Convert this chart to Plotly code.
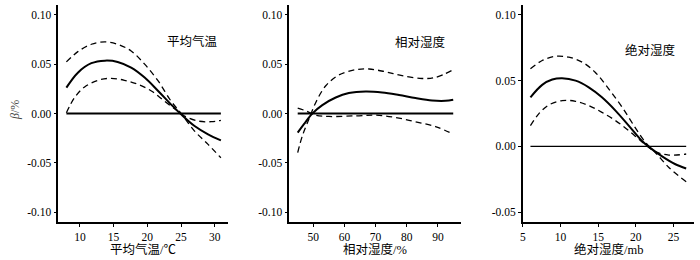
import plotly.graph_objects as go

# Panel 1: 平均气温
temp_x = [8.0, 9.7, 11.7, 13.7, 15.6, 17.6, 19.6, 21.6, 23.5, 25.0, 27.0, 29.0, 30.9]
temp_est = [0.0262, 0.0414, 0.0510, 0.0536, 0.0523, 0.0465, 0.0364, 0.0228, 0.0093, -0.0008, -0.0127, -0.0211, -0.0272]
temp_up = [0.0523, 0.0627, 0.0702, 0.0726, 0.0702, 0.0634, 0.0500, 0.0330, 0.0127, 0.0, -0.0178, -0.0313, -0.0449]
temp_lo_x = [8.0, 9.2, 10.7, 12.7, 14.6, 16.6, 18.6, 20.6, 22.5, 24.5, 25.5, 27.5, 29.5, 30.9]
temp_lo = [0.0008, 0.0160, 0.0269, 0.0337, 0.0357, 0.0337, 0.0296, 0.0228, 0.0127, 0.0025, -0.0025, -0.0076, -0.0083, -0.0069]

# Panel 2: 相对湿度
rh_x = [45.0, 47.0, 49.7, 52.9, 57.2, 61.4, 66.8, 72.1, 77.5, 82.8, 88.1, 92.4, 94.9]
rh_est = [-0.0193, -0.0108, 0.0, 0.0085, 0.0162, 0.0207, 0.0223, 0.0213, 0.0187, 0.0156, 0.0132, 0.0129, 0.0139]
rh_up_x = [45.0, 46.5, 48.6, 50.8, 54.0, 58.2, 63.6, 67.9, 73.2, 78.5, 84.9, 89.2, 94.9]
rh_up = [-0.0396, -0.0226, -0.0057, 0.0112, 0.0281, 0.0390, 0.0444, 0.0451, 0.0423, 0.0383, 0.0355, 0.0366, 0.0444]
rh_lo_x = [45.0, 47.6, 50.8, 55.0, 63.6, 70.0, 76.4, 82.8, 89.2, 94.9]
rh_lo = [0.0055, 0.0027, -0.0017, -0.0030, -0.0024, -0.0017, -0.0040, -0.0084, -0.0132, -0.0209]

# Panel 3: 绝对湿度
ah_x = [6.0, 7.56, 8.9, 10.2, 12.0, 13.75, 15.5, 17.3, 19.06, 20.8, 21.7, 23.5, 25.2, 26.7]
ah_est = [0.0373, 0.0468, 0.0508, 0.0518, 0.0500, 0.0449, 0.0373, 0.0272, 0.0158, 0.0043, -0.0002, -0.0076, -0.0134, -0.0168]
ah_up_x = [6.0, 7.56, 9.3, 11.1, 12.9, 14.6, 16.4, 18.2, 19.9, 21.3, 22.6, 24.4, 26.7]
ah_up = [0.0590, 0.0653, 0.0685, 0.0678, 0.0640, 0.0564, 0.0437, 0.0297, 0.0145, 0.0030, -0.0046, -0.0160, -0.0269]
ah_lo_x = [6.0, 7.1, 8.45, 10.2, 12.0, 13.75, 15.5, 17.3, 19.06, 20.8, 22.6, 24.4, 26.7]
ah_lo = [0.0158, 0.0247, 0.0315, 0.0348, 0.0343, 0.0310, 0.0259, 0.0196, 0.0120, 0.0036, -0.0040, -0.0066, -0.0058]

x_titles = ["平均气温/℃", "相对湿度/%", "绝对湿度/mb"]
panel_labels = ["平均气温", "相对湿度", "绝对湿度"]
x_ranges = [[6.8, 32.0], [42.3, 97.3], [4.97, 27.74]]
x_ticks = [[10, 15, 20, 25, 30], [50, 60, 70, 80, 90], [5, 10, 15, 20, 25]]
y_ranges = [[-0.11, 0.11], [-0.11, 0.11], [-0.0575, 0.1075]]
y_ticks = [[-0.10, -0.05, 0.0, 0.05, 0.10], [-0.10, -0.05, 0.0, 0.05, 0.10], [-0.05, 0.0, 0.05, 0.10]]
y_tick_text = [["-0.10", "-0.05", "0.00", "0.05", "0.10"], ["-0.10", "-0.05", "0.00", "0.05", "0.10"],
               ["-0.05", "0.00", "0.05", "0.10"]]
y_title = "<i>β</i>/%"

W = 700.0
H_PLOT = 217.0
x_domains = [[58.3 / W, 228.3 / W], [289.3 / W, 460.7 / W], [522.7 / W, 694.0 / W]]
zero_widths = [2, 2, 1.3]
label_pos = [(0.951, 0.835), (0.928, 0.83), (0.908, 0.793)]

panels = [
    (temp_x, temp_est, temp_x, temp_up, temp_lo_x, temp_lo),
    (rh_x, rh_est, rh_up_x, rh_up, rh_lo_x, rh_lo),
    (ah_x, ah_est, ah_up_x, ah_up, ah_lo_x, ah_lo),
]

serif = "'Liberation Serif', 'Times New Roman', Times, serif"
cjk = "'Noto Sans CJK SC', sans-serif"

fig = go.Figure()
for i, (ex, ey, ux, uy, lx, ly) in enumerate(panels):
    xa = "x" if i == 0 else f"x{i+1}"
    ya = "y" if i == 0 else f"y{i+1}"
    fig.add_trace(go.Scatter(x=[ex[0], ex[-1]], y=[0, 0], mode="lines", xaxis=xa, yaxis=ya,
                             line=dict(color="black", width=zero_widths[i]), showlegend=False, hoverinfo="skip"))
    fig.add_trace(go.Scatter(x=ux, y=uy, mode="lines", xaxis=xa, yaxis=ya, line_shape="spline",
                             line=dict(color="black", width=1.3, dash="6px,4px"), showlegend=False))
    fig.add_trace(go.Scatter(x=lx, y=ly, mode="lines", xaxis=xa, yaxis=ya, line_shape="spline",
                             line=dict(color="black", width=1.3, dash="6px,4px"), showlegend=False))
    fig.add_trace(go.Scatter(x=ex, y=ey, mode="lines", xaxis=xa, yaxis=ya, line_shape="spline",
                             line=dict(color="black", width=2), showlegend=False))

layout = dict(
    width=700, height=260,
    margin=dict(l=0, r=0, t=5, b=38, autoexpand=False),
    paper_bgcolor="white", plot_bgcolor="white",
    showlegend=False,
)
axis_common = dict(showline=True, linecolor="black", linewidth=1.5, showgrid=False, zeroline=False,
                   ticks="outside", ticklen=3, tickwidth=1, tickcolor="black", automargin=False,
                   tickfont=dict(family=serif, size=11.5, color="black"))
for i in range(3):
    xk = "xaxis" if i == 0 else f"xaxis{i+1}"
    yk = "yaxis" if i == 0 else f"yaxis{i+1}"
    ya = "y" if i == 0 else f"y{i+1}"
    xa = "x" if i == 0 else f"x{i+1}"
    layout[xk] = dict(axis_common, domain=x_domains[i], range=x_ranges[i], anchor=ya,
                      tickvals=x_ticks[i])
    layout[yk] = dict(axis_common, domain=[0, 1], range=y_ranges[i], anchor=xa,
                      tickmode="array", tickvals=y_ticks[i], ticktext=y_tick_text[i])
fig.update_layout(**layout)

for i in range(3):
    xa = "x" if i == 0 else f"x{i+1}"
    ya = "y" if i == 0 else f"y{i+1}"
    fig.add_annotation(x=label_pos[i][0], y=label_pos[i][1], xref=f"{xa} domain", yref=f"{ya} domain",
                       text=panel_labels[i], showarrow=False, xanchor="right", yanchor="middle",
                       font=dict(family=cjk, size=12.5, color="black"))
    fig.add_annotation(x=0.5, y=-(249 - 222) / H_PLOT, xref=f"{xa} domain", yref="paper",
                       text=x_titles[i], showarrow=False, xanchor="center", yanchor="middle",
                       font=dict(family="'Liberation Serif', 'Noto Sans CJK SC', serif", size=12.5, color="black"))

fig.add_annotation(x=15 / W, y=(222 - 110) / H_PLOT, xref="paper", yref="paper", text=y_title,
                   textangle=-90, showarrow=False, xanchor="center", yanchor="middle",
                   font=dict(family=serif, size=12, color="#444444"))

fig.write_html("out.html", config={"displayModeBar": False},
               post_script="document.body.style.margin='0';document.body.style.padding='0';")
